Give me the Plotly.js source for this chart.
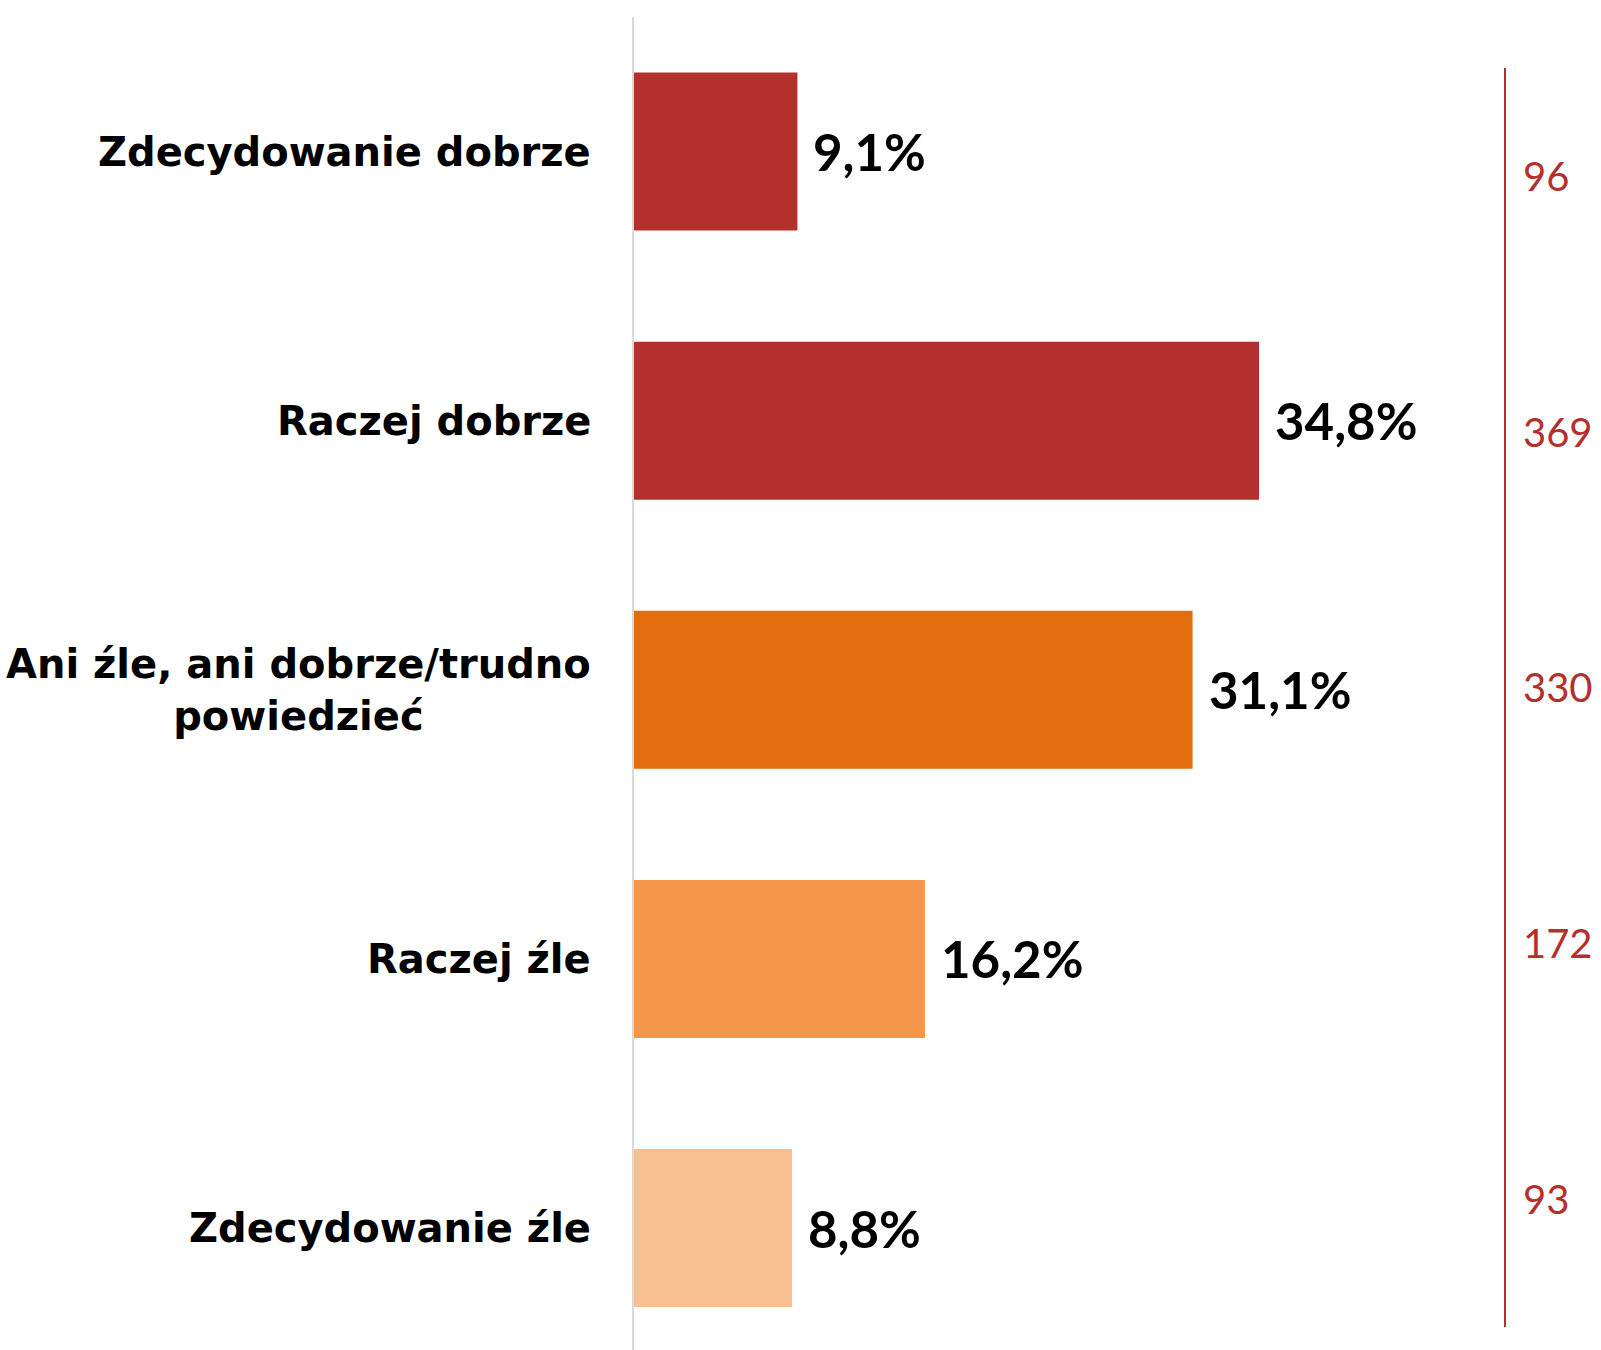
<!DOCTYPE html>
<html>
<head>
<meta charset="utf-8">
<script src="https://cdn.plot.ly/plotly-3.0.1.min.js"></script>
<style>html,body{margin:0;padding:0;background:#fff;}#chart{width:1601px;height:1350px;}</style>
</head>
<body>
<div id="chart"></div>
<script>
const categories = ["Zdecydowanie dobrze", "Raczej dobrze", "Ani źle, ani dobrze/trudno<br>powiedzieć", "Raczej źle", "Zdecydowanie źle"];
const percents = [9.1, 34.8, 31.1, 16.2, 8.8];
const percentLabels = ["9,1%", "34,8%", "31,1%", "16,2%", "8,8%"];
const counts = ["96", "369", "330", "172", "93"];
const barColors = ["#B3302D", "#B3302D", "#E36C0C", "#F5974A", "#F8C091"];

const red = "#B3302D";
const labelFont = "'DejaVu Sans', Lato, sans-serif";
const numFont = "Lato, 'Open Sans', sans-serif";

const traces = [
  {
    type: "bar",
    orientation: "h",
    x: percents,
    y: categories,
    xaxis: "x",
    yaxis: "y",
    width: 0.587,
    marker: {color: barColors, line: {width: 0}},
    hoverinfo: "skip",
    showlegend: false
  },
  {
    type: "scatter",
    mode: "markers",
    x: counts.map(() => 0),
    y: counts,
    xaxis: "x2",
    yaxis: "y2",
    marker: {opacity: 0},
    hoverinfo: "skip",
    showlegend: false
  }
];

const annotations = [];
categories.forEach((c, i) => {
  annotations.push({
    xref: "paper", yref: "y", x: -0.0457, y: c,
    xanchor: "right", yanchor: "middle", align: "center",
    text: "<b>" + c + "</b>", showarrow: false,
    font: {family: labelFont, size: 40, color: "#000"}
  });
  annotations.push({
    xref: "x", yref: "y", x: percents[i], y: c,
    xanchor: "left", yanchor: "middle", xshift: 14,
    text: "<b>" + percentLabels[i] + "</b>", showarrow: false,
    font: {family: numFont, size: 51, color: "#000"}
  });
});

const layout = {
  width: 1601, height: 1350,
  margin: {l: 634, r: 69, t: 17, b: 0},
  paper_bgcolor: "#fff", plot_bgcolor: "#fff",
  showlegend: false,
  xaxis: {range: [0, 50], visible: false, fixedrange: true, domain: [0, 1]},
  yaxis: {
    type: "category", categoryarray: categories, categoryorder: "array",
    range: [4.453, -0.5], autorange: false,
    showticklabels: false, ticks: "", showgrid: false, zeroline: false,
    showline: true, linecolor: "#d9d9d9", linewidth: 2
  },
  xaxis2: {anchor: "y2", domain: [0.96, 0.97], range: [0, 1], visible: false},
  yaxis2: {
    type: "category", categoryarray: counts, categoryorder: "array",
    range: [4.496, -0.425], autorange: false,
    anchor: "free", position: 0.9699, side: "right",
    domain: [0.01725, 0.9617],
    showline: true, linecolor: red, linewidth: 2,
    ticks: "", showgrid: false, zeroline: false,
    ticklabelstandoff: 9,
    tickfont: {family: numFont, size: 40, color: red}
  },
  annotations: annotations
};

Plotly.newPlot("chart", traces, layout, {displayModeBar: false, staticPlot: true});
</script>
</body>
</html>
